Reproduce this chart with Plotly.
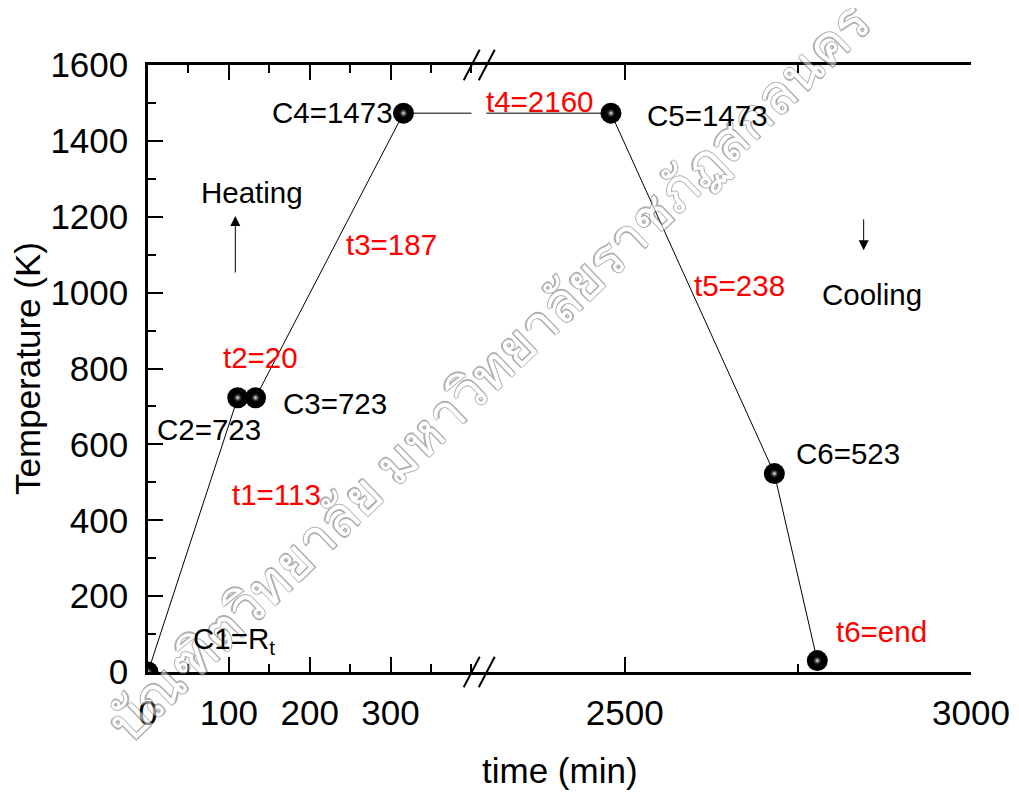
import plotly.graph_objects as go

# ---- data ----
labels_heat = ["C1", "C2", "C3", "C4"]
time_heat = [0, 111, 133, 316]          # min (left axis segment)
temp_heat = [0, 723, 723, 1473]         # K
labels_cool = ["C5", "C6", "C7"]
time_cool = [2480, 2716, 2778]          # min (right axis segment)
temp_cool = [1473, 523, 30]             # K
break_left = 400                        # hold line ends before the axis break
break_right = 2300                      # hold line resumes after the axis break

x_left_range = [0, 409]
x_right_range = [2289, 3000]
y_range = [0, 1600]
x_left_ticks = [0, 100, 200, 300]
x_right_ticks = [2500, 3000]

FONT = "Arial, Liberation Sans, sans-serif"
fig = go.Figure()

line_style = dict(color="black", width=1)
fig.add_trace(go.Scatter(x=time_heat + [break_left], y=temp_heat + [temp_heat[-1]],
                         mode="lines", line=line_style, xaxis="x", yaxis="y", showlegend=False))
fig.add_trace(go.Scatter(x=[break_right] + time_cool, y=[temp_cool[0]] + temp_cool,
                         mode="lines", line=line_style, xaxis="x2", yaxis="y", showlegend=False))

for xs, ys, xa in [(time_heat, temp_heat, "x"), (time_cool, temp_cool, "x2")]:
    fig.add_trace(go.Scatter(x=xs, y=ys, mode="markers", xaxis=xa, yaxis="y", showlegend=False,
                             marker=dict(size=21, color="black", line=dict(width=0))))
    fig.add_trace(go.Scatter(x=xs, y=ys, mode="markers", xaxis=xa, yaxis="y", showlegend=False,
                             marker=dict(size=10, color="rgba(0,0,0,0)", line=dict(width=0),
                                         gradient=dict(type="radial", color="white"))))

black_ann = [
    ("C4=1473", "x", 228, 1476),
    ("C3=723", "x", 231, 709),
    ("C2=723", "x", 76, 638),
    ("C1=R<sub>t</sub>", "x", 106, 84),
    ("Heating", "x", 129, 1263),
    ("C5=1473", "x2", 2620, 1468),
    ("C6=523", "x2", 2823, 575),
    ("Cooling", "x2", 2857, 994),
]
red_ann = [
    ("t1=113", "x", 159, 467),
    ("t2=20", "x", 139, 830),
    ("t3=187", "x", 301, 1128),
    ("t4=2160", "x2", 2377, 1505),
    ("t5=238", "x2", 2666, 1020),
    ("t6=end", "x2", 2871, 108),
]
WATERMARK = "บัณฑิตวิทยาลัย มหาวิทยาลัยราชภัฏสกลนคร"
anns = []
# watermark: outlined text, made semi-transparent so underlying labels/lines stay visible
anns.append(dict(text=WATERMARK, x=0.412, y=0.496, xref="paper", yref="paper",
                 showarrow=False, textangle=-44, opacity=0.55,
                 font=dict(size=54, color="white",
                           shadow="-1px -1px 0 #6e6e6e, 1px -1px 0 #6e6e6e, -1px 1px 0 #6e6e6e, 1px 1px 0 #6e6e6e")))
for txt, xa, x, y in black_ann:
    anns.append(dict(text=txt, x=x, y=y, xref=xa, yref="y", showarrow=False,
                     font=dict(family=FONT, size=29.5, color="black")))
for txt, xa, x, y in red_ann:
    anns.append(dict(text=txt, x=x, y=y, xref=xa, yref="y", showarrow=False,
                     font=dict(family=FONT, size=29.5, color="red")))
# heating / cooling arrows
anns.append(dict(x=108, y=1202, ax=108, ay=1049, xref="x", yref="y", axref="x", ayref="y",
                 showarrow=True, arrowhead=2, arrowsize=2, arrowwidth=1, arrowcolor="black", text=""))
anns.append(dict(x=2845, y=1112, ax=2845, ay=1197, xref="x2", yref="y", axref="x2", ayref="y",
                 showarrow=True, arrowhead=2, arrowsize=2, arrowwidth=1, arrowcolor="black", text=""))
# x title spanning both segments
anns.append(dict(text="time (min)", x=0.5, y=0, xref="paper", yref="paper", yanchor="middle", yshift=-98,
                 showarrow=False, font=dict(family=FONT, size=35, color="black")))

# break marks
shapes = []
for xc in [0.3933, 0.4116]:
    for yc in [0.0, 1.0]:
        shapes.append(dict(type="line", xref="paper", yref="paper",
                           x0=xc - 0.0097, x1=xc + 0.0097, y0=yc - 0.025, y1=yc + 0.025,
                           line=dict(color="black", width=2)))

axis_common = dict(showline=True, linecolor="black", linewidth=2.5,
                   ticks="inside", ticklen=15, tickwidth=2, tickcolor="black",
                   showgrid=False, zeroline=False, automargin=False,
                   tickfont=dict(family=FONT, size=35, color="black"),
                   minor=dict(ticks="inside", ticklen=8, tickwidth=2, tickcolor="black"))

# page body has an 8px default margin, so the figure is sized/offset to compensate
fig.update_layout(
    width=1011, height=784,
    margin=dict(l=140, r=48, t=57, b=120),
    paper_bgcolor="white", plot_bgcolor="white",
    xaxis=dict(domain=[0, 0.4018], range=x_left_range, tickvals=x_left_ticks, mirror="ticks",
               ticklabelstandoff=8, **{**axis_common, "minor": dict(axis_common["minor"], dtick=50)}),
    xaxis2=dict(domain=[0.4018, 1], range=x_right_range, tickvals=x_right_ticks, anchor="y", mirror="ticks",
                ticklabelstandoff=8, **{**axis_common, "minor": dict(axis_common["minor"], tickvals=[2750])}),
    yaxis=dict(range=y_range, dtick=200, ticklabelstandoff=10, mirror=False,
               title=dict(text="Temperature (K)", font=dict(family=FONT, size=35, color="black"), standoff=3),
               **{**axis_common, "minor": dict(axis_common["minor"], dtick=100)}),
    yaxis2=dict(range=y_range, dtick=200, overlaying="y", anchor="x2", side="right", showticklabels=False,
                **{**axis_common, "minor": dict(axis_common["minor"], dtick=100)}),
    annotations=anns, shapes=shapes,
)
fig.write_html("out.html")
